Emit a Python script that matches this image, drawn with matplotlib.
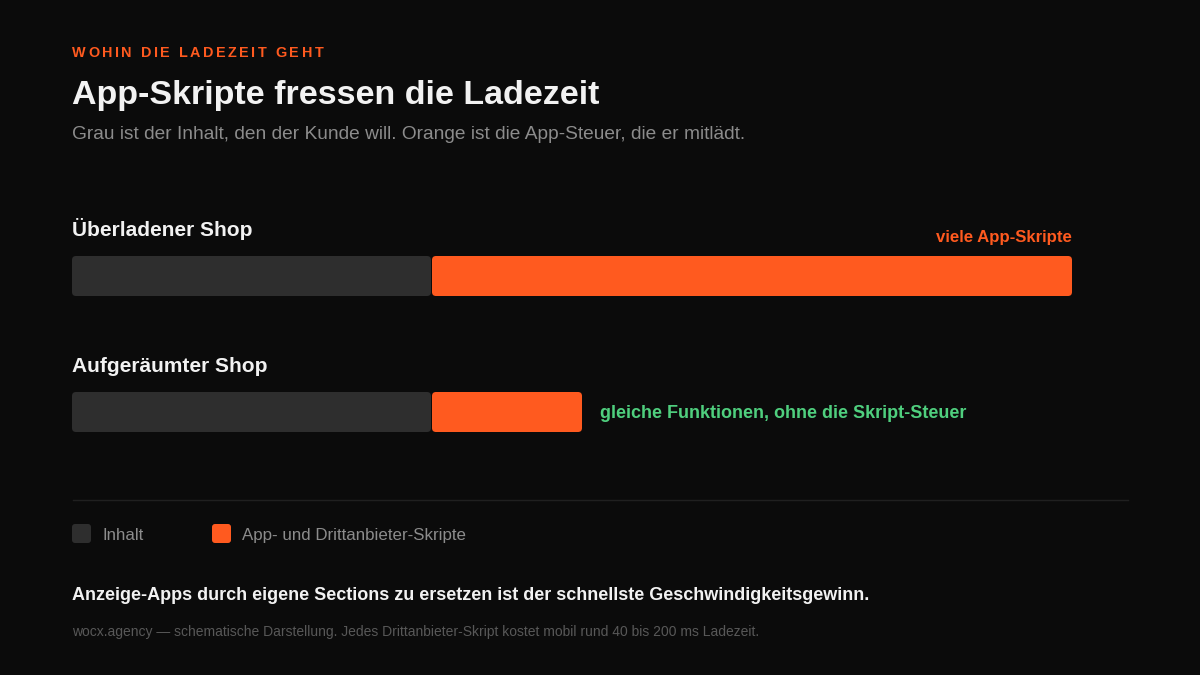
import matplotlib
matplotlib.use("Agg")
import matplotlib.pyplot as plt
from matplotlib.patches import FancyBboxPatch

# ---- data ----
categories = ["Überladener Shop", "Aufgeräumter Shop"]
content = [36, 36]          # grey: content the customer wants
scripts = [64, 15]          # orange: app & third-party scripts
bar_notes = ["viele App-Skripte", "gleiche Funktionen, ohne die Skript-Steuer"]
legend_labels = ["Inhalt", "App- und Drittanbieter-Skripte"]

kicker = "WOHIN DIE LADEZEIT GEHT"
title = "App-Skripte fressen die Ladezeit"
subtitle = "Grau ist der Inhalt, den der Kunde will. Orange ist die App-Steuer, die er mitlädt."
takeaway = "Anzeige-Apps durch eigene Sections zu ersetzen ist der schnellste Geschwindigkeitsgewinn."
footer = "wocx.agency — schematische Darstellung. Jedes Drittanbieter-Skript kostet mobil rund 40 bis 200 ms Ladezeit."

# ---- style ----
BG = "#0b0b0b"
GREY = "#2e2e2e"
ORANGE = "#ff5a1f"
GREEN = "#4fcf7e"
WHITE = "#f2f2f2"
MUTED = "#8c8c8c"
FAINT = "#585858"
FONT = ["Liberation Sans", "DejaVu Sans"]
plt.rcParams["font.family"] = FONT

W, H = 1200, 675
fig = plt.figure(figsize=(12, 6.75), dpi=100, facecolor=BG)


def fx(x):
    return x / W


def fy(y):
    return 1 - y / H


# ---- kicker with letter spacing ----
renderer = fig.canvas.get_renderer()
x = 72
ksize = 10.4
for ch in kicker:
    t = fig.text(fx(x), fy(57), ch, color=ORANGE, fontsize=ksize, fontweight="bold",
                 va="baseline", ha="left")
    w = t.get_window_extent(renderer=renderer).width
    if ch == " ":
        w = ksize * 100 / 72 * 0.28
    x += w + 2.5

fig.text(fx(72), fy(104), title, color=WHITE, fontsize=24.5, fontweight="bold", va="baseline")
fig.text(fx(72), fy(139), subtitle, color=MUTED, fontsize=13.74, va="baseline")

# ---- bars ----
ax_left, ax_right = 72, 1072
y_top, y_bot = 236, 452
row_gap = 136.0
ax = fig.add_axes([fx(ax_left), fy(y_bot), (ax_right - ax_left) / W, (y_bot - y_top) / H])
ax.set_facecolor(BG)
ax.set_xlim(0, 100)
ax.set_ylim((y_bot - 276) / row_gap, (y_top - 276) / row_gap)
ax.axis("off")

bar_h = 40 / row_gap
px_x = (ax_right - ax_left) / 100.0       # px per x unit
radius_px = 4
rs = radius_px / px_x
aspect = (1 / row_gap) / (1 / px_x)

for i, (c, s) in enumerate(zip(content, scripts)):
    y0 = i - bar_h / 2
    ax.add_patch(FancyBboxPatch((0, y0), c - 0.1, bar_h,
                                boxstyle=f"round,pad=0,rounding_size={rs}",
                                mutation_aspect=aspect, fc=GREY, ec="none"))
    ax.add_patch(FancyBboxPatch((c, y0), s, bar_h,
                                boxstyle=f"round,pad=0,rounding_size={rs}",
                                mutation_aspect=aspect, fc=ORANGE, ec="none"))
    # row label
    ax.annotate(categories[i], xy=(0, y0), xytext=(0, 20 * 0.72),
                textcoords="offset points", ha="left", va="baseline",
                color=WHITE, fontsize=15, fontweight="bold", annotation_clip=False)

# notes
end0 = content[0] + scripts[0]
ax.annotate(bar_notes[0], xy=(end0, 0 - bar_h / 2), xytext=(0, 14 * 0.72),
            textcoords="offset points", ha="right", va="baseline",
            color=ORANGE, fontsize=12.1, fontweight="bold", annotation_clip=False)
end1 = content[1] + scripts[1]
ax.annotate(bar_notes[1], xy=(end1, 1), xytext=(18 * 0.72, -6 * 0.72),
            textcoords="offset points", ha="left", va="baseline",
            color=GREEN, fontsize=12.95, fontweight="bold", annotation_clip=False)

# ---- separator ----
fig.add_artist(plt.Line2D([fx(72.5), fx(1127.5)], [fy(500), fy(500)], color="#202020", lw=1.0))

# ---- legend ----
leg_colors = [GREY, ORANGE]
leg_x = [72, 212]
for lx, col, lab in zip(leg_x, leg_colors, legend_labels):
    fig.add_artist(FancyBboxPatch((fx(lx), fy(543)), fx(19), 19 / H,
                                  boxstyle=f"round,pad=0,rounding_size={3 / W}",
                                  mutation_aspect=W / H, transform=fig.transFigure,
                                  fc=col, ec="none"))
    fig.text(fx(lx + 30), fy(540), lab, color=MUTED, fontsize=12.2, va="baseline")

fig.text(fx(72), fy(600), takeaway, color=WHITE, fontsize=12.95, fontweight="bold", va="baseline")
fig.text(fx(72), fy(636), footer, color=FAINT, fontsize=10.04, va="baseline")

fig.savefig("out.png", dpi=100, facecolor=BG)
